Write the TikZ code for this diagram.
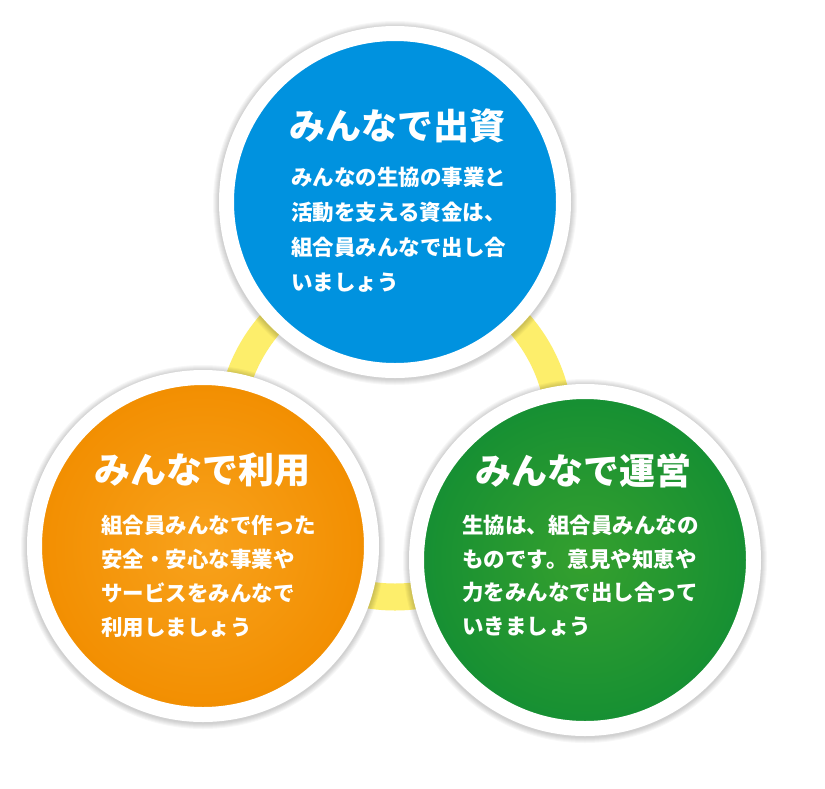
\documentclass[tikz,border=0pt]{standalone}
\usepackage{fontspec}
\newfontfamily\jp{Noto Sans CJK JP}
\definecolor{cblue}{HTML}{0092DF}
\definecolor{ocen}{HTML}{F8A21C}
\definecolor{omid}{HTML}{F28E00}
\definecolor{oedge}{HTML}{EE8100}
\definecolor{gcen}{HTML}{35A02E}
\definecolor{gmid}{HTML}{158F33}
\definecolor{gedge}{HTML}{078834}
\definecolor{ringyel}{HTML}{FDEE6B}
\pgfdeclareradialshading{orsh}{\pgfpoint{0bp}{0bp}}{color(0bp)=(ocen); color(25bp)=(omid); color(50bp)=(oedge); color(72bp)=(oedge)}
\pgfdeclareradialshading{grsh}{\pgfpoint{0bp}{0bp}}{color(0bp)=(gcen); color(25bp)=(gmid); color(50bp)=(gedge); color(72bp)=(gedge)}
\tikzset{
  disc/.style={circle, minimum size=337, inner sep=0, draw=white, line width=15},
  ttl/.style={anchor=base, text=white, inner sep=0, font=\jp\bfseries\fontsize{36}{42}\selectfont},
  body/.style={anchor=base west, align=left, text=white, inner sep=0},
  ringline/.style={draw=ringyel, line width=27}
}
\newcommand{\softshadow}[1]{%
  \foreach \k in {1,...,6}{\fill[black, opacity=0.03] ([yshift=-1]#1) circle[radius=176+\k];}}
\begin{document}
\begin{tikzpicture}[x=1pt,y=-1pt]
\useasboundingbox (0,0) rectangle (825,788);
\fill[white] (0,0) rectangle (825,788);
\coordinate (ringc) at (395,432);
\coordinate (ptop) at (395,202);
\coordinate (pleft) at (203,546);
\coordinate (pright) at (585,560);
\draw[ringline] (ringc) circle[radius=165];
\softshadow{ptop}
\softshadow{pleft}
\softshadow{pright}
\node[disc, fill=cblue] (ctop) at (ptop) {};
\node[disc, shading=orsh] (cleft) at (pleft) {};
\node[disc, shading=grsh] (cright) at (pright) {};
\node[ttl] (ttop) at (397,139) {みんなで出資};
\node[ttl] (tleft) at (202,483) {みんなで利用};
\node[ttl] (tright) at (583,484) {みんなで運営};
\node[body, font=\jp\bfseries\fontsize{21.5}{34.7}\selectfont] (btop) at (291,290)
  {みんなの生協の事業と\\活動を支える資金は、\\組合員みんなで出し合\\いましょう};
\node[body, font=\jp\bfseries\fontsize{21.5}{34}\selectfont] (bleft) at (101,635)
  {組合員みんなで作った\\安全・安心な事業や\\サービスをみんなで\\利用しましょう};
\node[body, font=\jp\bfseries\fontsize{21.5}{33.5}\selectfont] (bright) at (462,634)
  {生協は、組合員みんなの\\ものです。意見や知恵や\\力をみんなで出し合って\\いきましょう};
\end{tikzpicture}
\end{document}
